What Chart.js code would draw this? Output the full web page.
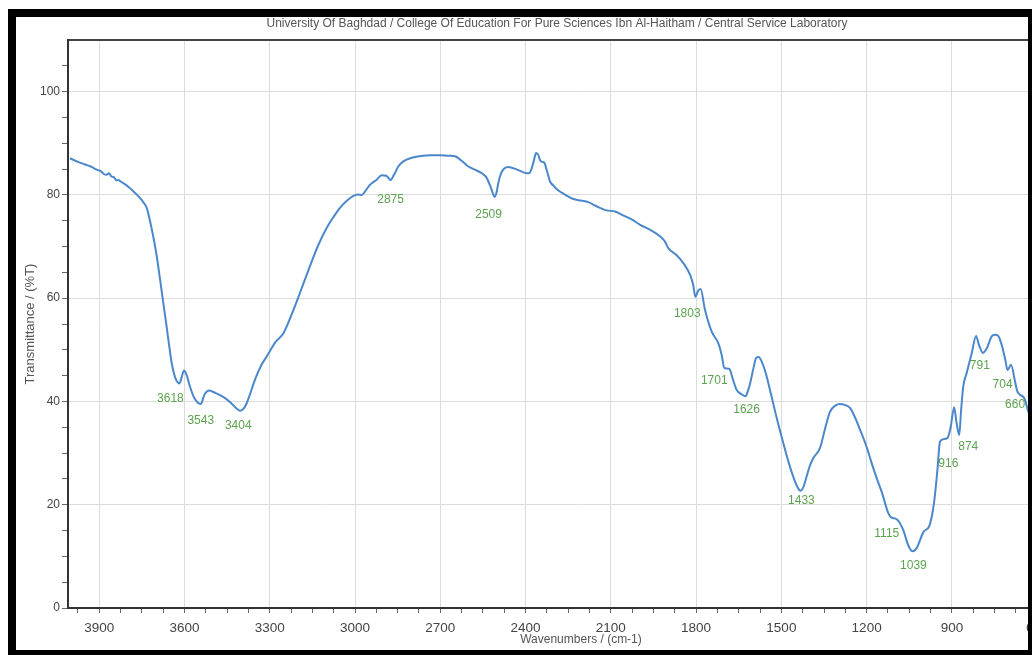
<!DOCTYPE html>
<html>
<head>
<meta charset="utf-8">
<title>FTIR spectrum</title>
<script src="https://cdn.jsdelivr.net/npm/chart.js@4/dist/chart.umd.min.js"></script>
<style>
  html, body { margin: 0; padding: 0; background: #fff; overflow: hidden; }
  #wrap { position: relative; width: 1032px; height: 655px; overflow: hidden; background: #fff; }
  #spectrum { position: absolute; left: 0; top: 0; }
  #frame {
    position: absolute; left: 8px; top: 9px; width: 1024px; height: 646px;
    box-sizing: border-box; border-style: solid; border-color: #000;
    border-width: 8px 4px 5px 8px; pointer-events: none;
  }
</style>
</head>
<body>
<div id="wrap">
  <canvas id="spectrum" width="1114" height="655"></canvas>
  <div id="frame"></div>
</div>
<script>
// Wavenumber (cm-1) and transmittance (%T) of the recorded spectrum
const wavenumbers = [
  4003, 3975, 3950, 3930, 3909, 3895, 3885, 3874, 3866, 3858, 3848, 3840, 3833, 3822, 3810,
  3798, 3786, 3765, 3745, 3733, 3715, 3700, 3686, 3674, 3663, 3652, 3645, 3632, 3618, 3610,
  3602, 3592, 3581, 3565, 3543, 3530, 3513, 3490, 3464, 3440, 3418, 3404, 3392, 3381, 3350,
  3330, 3311, 3280, 3252, 3222, 3194, 3160, 3130, 3100, 3075, 3053, 3028, 3006, 2990, 2977,
  2962, 2947, 2925, 2906, 2890, 2875, 2862, 2848, 2830, 2800, 2771, 2735, 2701, 2670, 2648,
  2625, 2601, 2575, 2554, 2538, 2524, 2515, 2509, 2502, 2496, 2486, 2475, 2461, 2430, 2396,
  2388, 2382, 2372, 2363, 2355, 2349, 2342, 2335, 2324, 2314, 2302, 2290, 2260, 2232, 2205,
  2179, 2150, 2115, 2085, 2055, 2025, 1997, 1960, 1927, 1910, 1898, 1870, 1845, 1821, 1810,
  1803, 1792, 1784, 1769, 1745, 1722, 1710, 1701, 1692, 1683, 1670, 1657, 1640, 1626, 1618,
  1610, 1598, 1589, 1580, 1569, 1555, 1540, 1515, 1493, 1475, 1458, 1443, 1433, 1422, 1411,
  1400, 1388, 1364, 1345, 1329, 1310, 1294, 1275, 1258, 1240, 1223, 1200, 1182, 1165, 1147,
  1124, 1115, 1094, 1071, 1054, 1039, 1024, 999, 980, 963, 951, 942, 930, 916, 905,
  892, 884, 874, 868, 860, 848, 830, 815, 805, 791, 777, 760, 748, 737, 725,
  713, 704, 692, 678, 670, 660, 645, 631, 619, 600
];
const transmittance = [
  87.1, 86.4, 85.9, 85.5, 84.9, 84.6, 84.1, 83.9, 84.2, 83.6, 83.4, 82.8, 82.9, 82.5, 82.1,
  81.6, 81.0, 79.9, 78.6, 77.5, 73.3, 68.9, 63.6, 58.8, 54.5, 50.0, 47.4, 44.5, 43.5, 44.7,
  46.0, 45.0, 42.9, 40.6, 39.5, 41.3, 42.1, 41.6, 40.9, 39.9, 38.7, 38.2, 38.6, 39.7, 44.5,
  47.0, 48.7, 51.5, 53.2, 57.0, 61.0, 66.0, 70.2, 73.6, 75.8, 77.5, 78.9, 79.8, 80.1, 80.0,
  80.9, 82.0, 82.9, 83.8, 83.7, 82.9, 84.0, 85.5, 86.5, 87.2, 87.5, 87.7, 87.7, 87.6, 87.5,
  86.6, 85.5, 84.8, 84.2, 83.4, 81.7, 80.3, 79.6, 80.5, 82.3, 84.2, 85.1, 85.4, 84.9, 84.2,
  84.2, 84.6, 86.4, 88.1, 87.7, 86.7, 86.4, 86.3, 84.5, 82.6, 81.8, 81.1, 80.0, 79.2, 78.9,
  78.6, 77.8, 77.0, 76.8, 76.0, 75.2, 74.2, 73.2, 72.0, 71.0, 69.7, 68.4, 66.8, 64.5, 62.5,
  60.3, 61.5, 61.8, 57.8, 53.5, 51.3, 49.0, 46.5, 46.4, 46.3, 44.2, 42.2, 41.4, 41.0, 42.0,
  43.5, 46.5, 48.4, 48.6, 47.7, 45.5, 42.2, 36.5, 31.9, 28.3, 25.4, 23.4, 22.7, 23.5, 25.5,
  27.5, 29.0, 31.0, 35.0, 38.0, 39.2, 39.5, 39.3, 38.7, 36.8, 34.5, 31.2, 28.0, 25.2, 22.5,
  18.4, 17.6, 17.2, 15.1, 12.2, 11.0, 11.6, 14.8, 15.8, 20.3, 26.7, 32.2, 32.7, 32.9, 34.8,
  38.9, 36.0, 33.5, 38.0, 42.9, 45.5, 49.4, 52.7, 51.0, 49.4, 50.3, 52.6, 52.9, 52.7, 51.0,
  48.3, 46.1, 47.1, 43.9, 42.0, 41.3, 40.6, 38.0, 36.4, 33.5
];

// Annotated band positions (cm-1)
const peakWavenumbers = [3618, 3543, 3404, 2875, 2509, 1803, 1701, 1626, 1433, 1115, 1039, 916, 874, 791, 704, 660];

// Axis tick labels
const xTickLabels = [3900, 3600, 3300, 3000, 2700, 2400, 2100, 1800, 1500, 1200, 900, 600];
const yTickLabels = [0, 20, 40, 60, 80, 100];

// Layout / style settings
const FONT = "'Liberation Sans', Arial, Helvetica, sans-serif";
const X_MIN = 400, X_MAX = 4010, X_MINOR = 75;
const Y_MIN = 0, Y_MAX = 110, Y_MINOR = 5;
const LINE_COLOR = '#4a87cb';
const PEAK_COLOR = '#5ca34e';
// pixel nudges of each band label relative to its point on the trace
const peakLabelNudge = [
  [-9, 15], [0, 17], [-2, 15], [0, 20], [-6, 18], [-8, 17], [-10, 13], [1, 13],
  [1, 10], [-4, 17], [1, 14], [1, 26], [9, 12], [-3, 13], [-5, 15], [-5, 10]
];

const peakLabels = {
  id: 'peakLabels',
  afterDatasetsDraw(chart) {
    const { ctx, scales: { x, y } } = chart;
    ctx.save();
    ctx.font = '12px ' + FONT;
    ctx.fillStyle = PEAK_COLOR;
    ctx.textAlign = 'center';
    ctx.textBaseline = 'middle';
    peakWavenumbers.forEach((wn, i) => {
      const t = transmittance[wavenumbers.indexOf(wn)];
      const [dx, dy] = peakLabelNudge[i];
      ctx.fillText(String(wn), x.getPixelForValue(wn) + dx, y.getPixelForValue(t) + dy);
    });
    ctx.restore();
  }
};

const isXMajor = v => xTickLabels.includes(v);
const isYMajor = v => yTickLabels.includes(v);

new Chart(document.getElementById('spectrum'), {
  type: 'line',
  data: {
    datasets: [{
      data: wavenumbers.map((w, i) => ({ x: w, y: transmittance[i] })),
      borderColor: LINE_COLOR,
      borderWidth: 2,
      pointRadius: 0,
      fill: false,
      cubicInterpolationMode: 'monotone'
    }]
  },
  options: {
    responsive: false,
    animation: false,
    devicePixelRatio: 1,
    layout: { padding: { left: 20, right: 20, top: 0, bottom: 0 } },
    plugins: {
      legend: { display: false },
      tooltip: { enabled: false },
      title: {
        display: true,
        text: 'University Of Baghdad / College Of Education For Pure Sciences Ibn Al-Haitham / Central Service Laboratory',
        color: '#555',
        font: { family: FONT, size: 12, weight: 'normal' },
        padding: { top: 16.8, bottom: 8.8 }
      }
    },
    scales: {
      x: {
        type: 'linear',
        reverse: true,
        min: X_MIN,
        max: X_MAX,
        afterBuildTicks(axis) {
          const ticks = [];
          for (let v = Math.floor(X_MAX / X_MINOR) * X_MINOR; v >= X_MIN; v -= X_MINOR) ticks.push({ value: v });
          axis.ticks = ticks;
        },
        afterFit(axis) { axis.height = 47; },
        grid: {
          color: c => (c.tick && isXMajor(c.tick.value)) ? '#dcdcdc' : 'rgba(0,0,0,0)',
          tickColor: '#666',
          tickLength: 5,
          lineWidth: 1
        },
        border: { color: '#333', width: 2 },
        ticks: {
          autoSkip: false,
          maxRotation: 0,
          padding: 7,
          color: '#444',
          font: { family: FONT, size: 13.5 },
          callback: v => isXMajor(v) ? String(v) : ''
        },
        title: {
          display: true,
          text: 'Wavenumbers / (cm-1)',
          color: '#555',
          font: { family: FONT, size: 12 },
          padding: { top: 0, bottom: 8 }
        }
      },
      y: {
        min: Y_MIN,
        max: Y_MAX,
        afterBuildTicks(axis) {
          const ticks = [];
          for (let v = Y_MIN; v <= Y_MAX; v += Y_MINOR) ticks.push({ value: v });
          axis.ticks = ticks;
        },
        afterFit(axis) { axis.width = 48; },
        grid: {
          color: c => {
            if (!c.tick) return 'rgba(0,0,0,0)';
            if (c.tick.value === Y_MAX) return '#444';
            return (isYMajor(c.tick.value) && c.tick.value !== Y_MIN) ? '#dcdcdc' : 'rgba(0,0,0,0)';
          },
          lineWidth: c => (c.tick && c.tick.value === Y_MAX) ? 2 : 1,
          tickColor: c => (c.tick && c.tick.value === Y_MAX) ? 'rgba(0,0,0,0)' : '#666',
          tickLength: 6
        },
        border: { color: '#333', width: 2 },
        ticks: {
          autoSkip: false,
          padding: 2,
          color: '#444',
          font: { family: FONT, size: 12 },
          callback: v => isYMajor(v) ? String(v) : ''
        },
        title: {
          display: true,
          text: 'Transmittance / (%T)',
          color: '#555',
          font: { family: FONT, size: 13 },
          padding: { top: 2.2, bottom: 0 }
        }
      }
    }
  },
  plugins: [peakLabels]
});
</script>
</body>
</html>
